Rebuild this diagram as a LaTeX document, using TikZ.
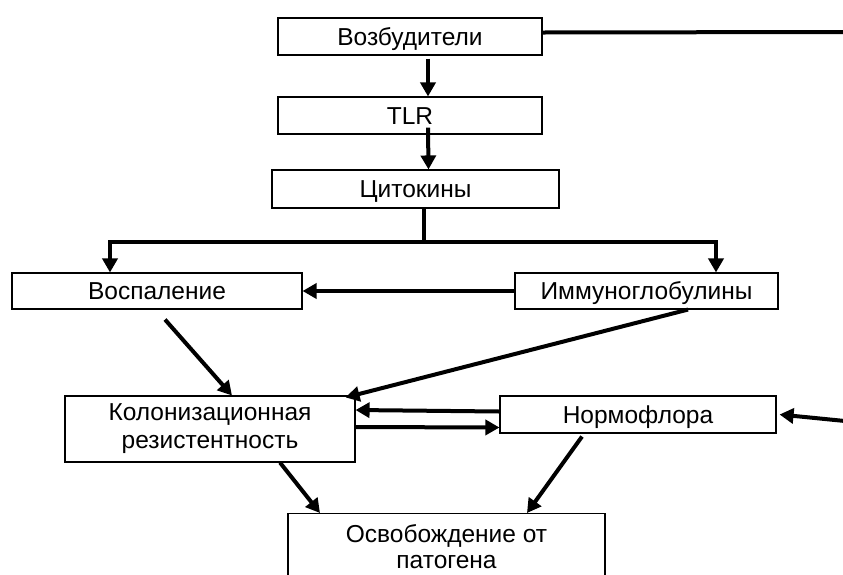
\documentclass[tikz,border=0pt]{standalone}
\usepackage{fontspec}
\setmainfont{Liberation Sans}
\usetikzlibrary{arrows.meta}
\begin{document}
\begin{tikzpicture}[x=1pt,y=-1pt,
  box/.style={draw,line width=1.1pt,rectangle,inner sep=0pt,align=center,font=\fontsize{24.5}{28}\selectfont},
  one/.style={text height=17.5pt,text depth=0pt},
  ln/.style={line width=4pt},
  arr/.style={line width=4pt,-{Triangle[length=14pt,width=15pt]}}]
\clip (0,0) rectangle (843,574);
\node[box,one,minimum width=264pt,minimum height=37pt] (voz) at (410,36.5) {Возбудители};
\node[box,one,minimum width=264pt,minimum height=37pt] (tlr) at (410,115.5) {TLR};
\node[box,one,minimum width=287pt,minimum height=38pt] (cyt) at (415.5,189) {Цитокины};
\node[box,one,minimum width=290pt,minimum height=36pt] (vosp) at (157,291) {Воспаление};
\node[box,one,minimum width=263pt,minimum height=36pt] (imm) at (646.5,291) {Иммуноглобулины};
\node[box,minimum width=290pt,minimum height=66pt] (kol) at (210,429) {Колонизационная\\резистентность};
\node[box,one,minimum width=276pt,minimum height=37pt] (norm) at (638,414.5) {Нормофлора};
\node[box,font=\fontsize{24.5}{25.5}\selectfont,minimum width=317pt,minimum height=66pt,anchor=north] (osv) at (446.5,513) {Освобождение от\\патогена};
\coordinate (e1) at (845,32);
\coordinate (e2) at (845,421);
\draw[ln] ([yshift=4pt]voz.east) -- (e1);
\draw[arr] ([xshift=18pt,yshift=-3pt]voz.south) -- ([xshift=18pt]tlr.north);
\draw[arr] ([xshift=18pt,yshift=7pt]tlr.south) -- ([xshift=13pt]cyt.north);
\draw[ln] ([xshift=8.5pt]cyt.south) -- ++(0,33) coordinate (j);
\draw[arr] (j) -| ([xshift=-47pt]vosp.north);
\draw[arr] (j) -| ([xshift=69.5pt]imm.north);
\draw[arr] (imm.west) -- (vosp.east);
\draw[arr] ([xshift=8pt,yshift=-10pt]vosp.south) -- ([xshift=22pt]kol.north);
\draw[arr] ([xshift=41.5pt]imm.south) -- ([xshift=-10pt,yshift=-2pt]kol.north east);
\draw[arr] ([yshift=3pt]norm.west) -- ([yshift=19pt]kol.east);
\draw[arr] ([yshift=2pt]kol.east) -- ([yshift=-13pt]norm.west);
\draw[arr] (e2) -- ([xshift=3pt]norm.east);
\draw[arr] ([xshift=70pt]kol.south) -- ([xshift=-126.5pt]osv.north);
\draw[arr] ([xshift=-56pt,yshift=-3pt]norm.south) -- ([xshift=80.5pt]osv.north);
\end{tikzpicture}
\end{document}
